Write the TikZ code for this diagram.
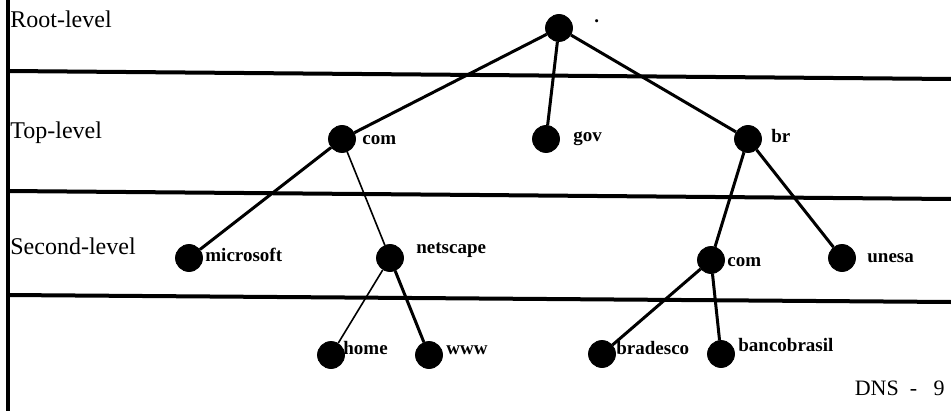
\documentclass[tikz,border=0pt]{standalone}
\usepackage{fontspec}
\setmainfont{Liberation Serif}
\tikzset{
  dot/.style={ draw, circle, fill=black, inner sep=0pt, minimum size=13.5pt }
}
\tikzset{
  lbl/.style={ anchor=west, inner sep=0pt, font=\fontsize{9.5}{11}\selectfont\bfseries }
}
\tikzset{
  lvl/.style={ anchor=west, inner sep=0pt, font=\fontsize{12}{14}\selectfont }
}
\tikzset{
  sep/.style={ line width=2pt }
}
\tikzset{
  thk/.style={ line width=1.5pt }
}
\tikzset{
  thn/.style={ line width=0.8pt }
}

\begin{document}
\begin{tikzpicture}[x=0.5pt, y=-0.5pt]
      \useasboundingbox (0,0) rectangle (951,411);

      % level separators
      \draw[sep] (8,0) -- (8,411);
      \draw[sep] (8,71) -- (951,79);
      \draw[sep] (8,191) -- (951,199);
      \draw[sep] (8,295) -- (951,302);

      \node[lvl] (root-lvl) at (10,19) {Root-level};
      \node[lvl] (top-lvl) at (10,133) {Top-level};
      \node[lvl] (second-lvl) at (10,246) {Second-level};

      \node[dot] (root) at (559,28) {};
      \node[lbl] (t-root) at (594,21) {.};

      \node[dot] (com) at (342,139) {};
      \node[lbl] (t-com) at (362,140) {com};
      \node[dot] (gov) at (546,139) {};
      \node[lbl] (t-gov) at (573,139) {gov};
      \node[dot] (br) at (748,139) {};
      \node[lbl] (t-br) at (771,136) {br};

      \node[dot] (microsoft) at (189,258) {};
      \node[lbl] (t-microsoft) at (205,255) {microsoft};
      \node[dot] (netscape) at (390,258) {};
      \node[lbl] (t-netscape) at (416,250) {netscape};
      \node[dot] (combr) at (711,260) {};
      \node[lbl] (t-combr) at (727,262) {com};
      \node[dot] (unesa) at (842,258) {};
      \node[lbl] (t-unesa) at (867,258) {unesa};

      \node[dot] (home) at (331,355) {};
      \node[lbl] (t-home) at (343,348) {home};
      \node[dot] (www) at (429,355) {};
      \node[lbl] (t-www) at (446,350) {www};
      \node[dot] (bradesco) at (602,354) {};
      \node[lbl] (t-bradesco) at (616,348) {bradesco};
      \node[dot] (bancobrasil) at (721,354) {};
      \node[lbl] (t-bancobrasil) at (738,345) {bancobrasil};

      \draw[thk] (root) edge (com);
      \draw[thk] (root) edge (gov);
      \draw[thk] (root) edge (br);
      \draw[thk] (com) edge (microsoft);
      \draw[thn] (com) edge (netscape);
      \draw[thn] (netscape) edge (home);
      \draw[thk] (netscape) edge (www);
      \draw[thk] (br) edge (combr);
      \draw[thk] (br) edge (unesa);
      \draw[thk] (combr) edge (bradesco);
      \draw[thk] (combr) edge (bancobrasil);

      \node[anchor=east, inner sep=0pt, font=\fontsize{11}{13}\selectfont] (page) at (945,388) {DNS\ \ -\ \ \ 9};
    \end{tikzpicture}
\end{document}
